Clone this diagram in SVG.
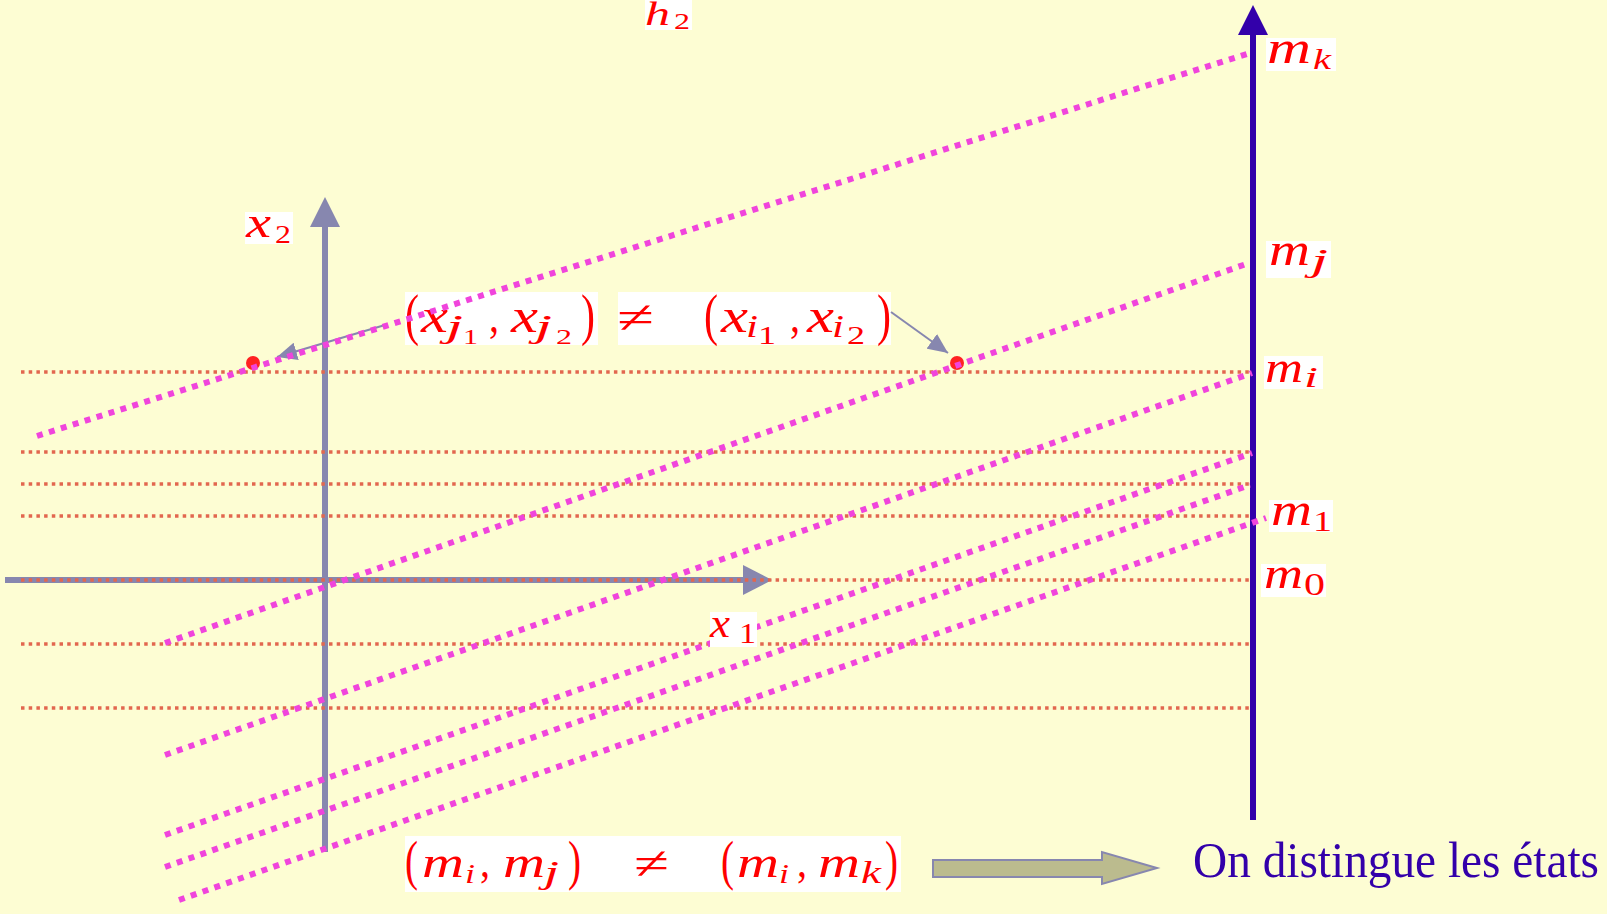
<svg xmlns="http://www.w3.org/2000/svg" width="1607" height="914" viewBox="0 0 1607 914">
<style>
.bg{fill:#FDFDD3}
.grid{stroke:#E2674F;stroke-width:3.5;stroke-dasharray:3.5 4.2;fill:none}
.lvl{stroke:#F044DC;stroke-width:6;stroke-dasharray:6 6.5;fill:none}
.ax{stroke:#8787AF;stroke-width:6;fill:none}
.axh{fill:#8787AF}
.bax{stroke:#3300AA;stroke-width:6;fill:none}
.baxh{fill:#3300AA}
.ptr{stroke:#8787AF;stroke-width:2;fill:none;marker-end:url(#ah)}
.box{fill:#FFFFFF}
.v{font-family:"Liberation Serif",serif;font-style:italic;fill:#FF0000}
.n{font-family:"Liberation Serif",serif;fill:#FF0000}
.pt{fill:#FF2222}
.blue{font-family:"Liberation Serif",serif;fill:#3300AA}
</style>
<defs>
<marker id="ah" viewBox="0 0 20 18" refX="20" refY="9" markerWidth="20" markerHeight="18" markerUnits="userSpaceOnUse" orient="auto">
<path d="M0,0 L20,9 L0,18 z" fill="#8787AF"/>
</marker>
</defs>
<rect class="bg" x="0" y="0" width="1607" height="914"/>

<g id="axes">
<line class="ax" x1="5" y1="580" x2="745" y2="580"/>
<polygon class="axh" points="743,565 772,580 743,595"/>
<line class="ax" x1="325" y1="852" x2="325" y2="225"/>
<polygon class="axh" points="310,227 325,197 340,227"/>
<line class="bax" x1="1253" y1="820" x2="1253" y2="33"/>
<polygon class="baxh" points="1238,35 1253,5 1268,35"/>
</g>

<g id="grid">
<line class="grid" x1="21" y1="372" x2="1252" y2="372"/>
<line class="grid" x1="21" y1="452" x2="1252" y2="452"/>
<line class="grid" x1="21" y1="484" x2="1252" y2="484"/>
<line class="grid" x1="21" y1="516" x2="1252" y2="516"/>
<line class="grid" x1="21" y1="580" x2="1252" y2="580"/>
<line class="grid" x1="21" y1="644" x2="1252" y2="644"/>
<line class="grid" x1="21" y1="708" x2="1252" y2="708"/>
</g>

<g id="label-xj">
<rect class="box" x="405" y="292" width="193" height="53"/>
<text class="n" x="405" y="334" font-size="56" textLength="14" lengthAdjust="spacingAndGlyphs">(</text>
<text class="v" x="421" y="332" font-size="48" textLength="27" lengthAdjust="spacingAndGlyphs">x</text>
<text class="v" x="446" y="337" font-size="32" textLength="17" lengthAdjust="spacingAndGlyphs">j</text>
<text class="n" x="463" y="344" font-size="22" textLength="15" lengthAdjust="spacingAndGlyphs">1</text>
<text class="n" x="489" y="332" font-size="46" textLength="10" lengthAdjust="spacingAndGlyphs">,</text>
<text class="v" x="511" y="332" font-size="48" textLength="27" lengthAdjust="spacingAndGlyphs">x</text>
<text class="v" x="535" y="337" font-size="32" textLength="17" lengthAdjust="spacingAndGlyphs">j</text>
<text class="n" x="556" y="344" font-size="22" textLength="16" lengthAdjust="spacingAndGlyphs">2</text>
<text class="n" x="581" y="334" font-size="56" textLength="14" lengthAdjust="spacingAndGlyphs">)</text>
</g>

<g id="label-xi">
<rect class="box" x="618" y="292" width="273" height="53"/>
<text class="n" x="617" y="333" font-size="46" textLength="37" lengthAdjust="spacingAndGlyphs">≠</text>
<text class="n" x="704" y="334" font-size="56" textLength="14" lengthAdjust="spacingAndGlyphs">(</text>
<text class="v" x="721" y="332" font-size="48" textLength="27" lengthAdjust="spacingAndGlyphs">x</text>
<text class="v" x="746" y="337" font-size="31" textLength="12" lengthAdjust="spacingAndGlyphs">i</text>
<text class="n" x="758" y="344" font-size="26" textLength="18" lengthAdjust="spacingAndGlyphs">1</text>
<text class="n" x="790" y="332" font-size="46" textLength="10" lengthAdjust="spacingAndGlyphs">,</text>
<text class="v" x="807" y="332" font-size="48" textLength="27" lengthAdjust="spacingAndGlyphs">x</text>
<text class="v" x="832" y="337" font-size="31" textLength="12" lengthAdjust="spacingAndGlyphs">i</text>
<text class="n" x="847" y="344" font-size="26" textLength="18" lengthAdjust="spacingAndGlyphs">2</text>
<text class="n" x="877" y="334" font-size="56" textLength="14" lengthAdjust="spacingAndGlyphs">)</text>
</g>

<g id="connectors">
<line class="ptr" x1="385" y1="325" x2="277" y2="357"/>
<line class="ptr" x1="891" y1="312" x2="948" y2="353"/>
<polygon points="933,860 1102,860 1102,852 1157,868 1102,884 1102,877 933,877" fill="#BBBB8E" stroke="#8787AF" stroke-width="2"/>
</g>

<g id="points">
<circle class="pt" cx="253" cy="363" r="7"/>
<circle class="pt" cx="957" cy="363" r="7"/>
</g>

<g id="levels">
<line class="lvl" x1="37" y1="436" x2="1250" y2="53"/>
<line class="lvl" x1="165" y1="643" x2="1249" y2="263"/>
<line class="lvl" x1="165" y1="755" x2="1252" y2="373"/>
<line class="lvl" x1="165" y1="835" x2="1252" y2="453"/>
<line class="lvl" x1="165" y1="867" x2="1250" y2="485"/>
<line class="lvl" x1="179" y1="900" x2="1266" y2="518"/>
</g>

<g id="label-x2">
<rect class="box" x="245" y="212" width="48" height="32"/>
<text class="v" x="246" y="237" font-size="44" textLength="25" lengthAdjust="spacingAndGlyphs">x</text>
<text class="n" x="275" y="243" font-size="26" textLength="16" lengthAdjust="spacingAndGlyphs">2</text>
</g>

<g id="label-h2">
<rect class="box" x="645" y="0" width="47" height="30"/>
<text class="v" x="645" y="25" font-size="34" textLength="25" lengthAdjust="spacingAndGlyphs">h</text>
<text class="n" x="674" y="29" font-size="24" textLength="16" lengthAdjust="spacingAndGlyphs">2</text>
</g>

<g id="label-x1">
<rect class="box" x="710" y="612" width="47" height="35"/>
<text class="v" x="710" y="637" font-size="42" textLength="20" lengthAdjust="spacingAndGlyphs">x</text>
<text class="n" x="739" y="643" font-size="29" textLength="17" lengthAdjust="spacingAndGlyphs">1</text>
</g>

<g id="label-mk">
<rect class="box" x="1266" y="38" width="70" height="33"/>
<text class="v" x="1267" y="63" font-size="46" textLength="44" lengthAdjust="spacingAndGlyphs">m</text>
<text class="v" x="1313" y="69" font-size="30" textLength="18" lengthAdjust="spacingAndGlyphs">k</text>
</g>

<g id="label-mj">
<rect class="box" x="1266" y="241" width="65" height="37"/>
<text class="v" x="1269" y="265" font-size="46" textLength="41" lengthAdjust="spacingAndGlyphs">m</text>
<text class="v" x="1311" y="271" font-size="32" textLength="17" lengthAdjust="spacingAndGlyphs">j</text>
</g>

<g id="label-mi">
<rect class="box" x="1264" y="356" width="59" height="33"/>
<text class="v" x="1265" y="382" font-size="44" textLength="38" lengthAdjust="spacingAndGlyphs">m</text>
<text class="v" x="1304" y="387" font-size="30" textLength="14" lengthAdjust="spacingAndGlyphs">i</text>
</g>

<g id="label-m1">
<rect class="box" x="1269" y="500" width="64" height="32"/>
<text class="v" x="1271" y="525" font-size="46" textLength="41" lengthAdjust="spacingAndGlyphs">m</text>
<text class="n" x="1313" y="531" font-size="29" textLength="19" lengthAdjust="spacingAndGlyphs">1</text>
</g>

<g id="label-m0">
<rect class="box" x="1261" y="564" width="65" height="33"/>
<text class="v" x="1264" y="588" font-size="44" textLength="39" lengthAdjust="spacingAndGlyphs">m</text>
<text class="n" x="1304" y="595" font-size="32" textLength="21" lengthAdjust="spacingAndGlyphs">0</text>
</g>

<g id="label-mm">
<rect class="box" x="405" y="836" width="496" height="56"/>
<text class="n" x="405" y="879" font-size="54" textLength="13" lengthAdjust="spacingAndGlyphs">(</text>
<text class="v" x="422" y="877" font-size="44" textLength="42" lengthAdjust="spacingAndGlyphs">m</text>
<text class="v" x="465" y="883" font-size="28" textLength="10" lengthAdjust="spacingAndGlyphs">i</text>
<text class="n" x="480" y="877" font-size="44" textLength="10" lengthAdjust="spacingAndGlyphs">,</text>
<text class="v" x="503" y="877" font-size="44" textLength="42" lengthAdjust="spacingAndGlyphs">m</text>
<text class="v" x="544" y="883" font-size="31" textLength="15" lengthAdjust="spacingAndGlyphs">j</text>
<text class="n" x="568" y="879" font-size="54" textLength="13" lengthAdjust="spacingAndGlyphs">)</text>
<text class="n" x="634" y="879" font-size="46" textLength="35" lengthAdjust="spacingAndGlyphs">≠</text>
<text class="n" x="721" y="879" font-size="54" textLength="13" lengthAdjust="spacingAndGlyphs">(</text>
<text class="v" x="737" y="877" font-size="44" textLength="42" lengthAdjust="spacingAndGlyphs">m</text>
<text class="v" x="779" y="883" font-size="28" textLength="10" lengthAdjust="spacingAndGlyphs">i</text>
<text class="n" x="797" y="877" font-size="44" textLength="10" lengthAdjust="spacingAndGlyphs">,</text>
<text class="v" x="818" y="877" font-size="44" textLength="42" lengthAdjust="spacingAndGlyphs">m</text>
<text class="v" x="861" y="883" font-size="31" textLength="20" lengthAdjust="spacingAndGlyphs">k</text>
<text class="n" x="885" y="879" font-size="54" textLength="13" lengthAdjust="spacingAndGlyphs">)</text>
</g>

<g id="label-states">
<text class="blue" x="1193" y="877" font-size="50" textLength="406" lengthAdjust="spacingAndGlyphs">On distingue les états</text>
</g>
</svg>
